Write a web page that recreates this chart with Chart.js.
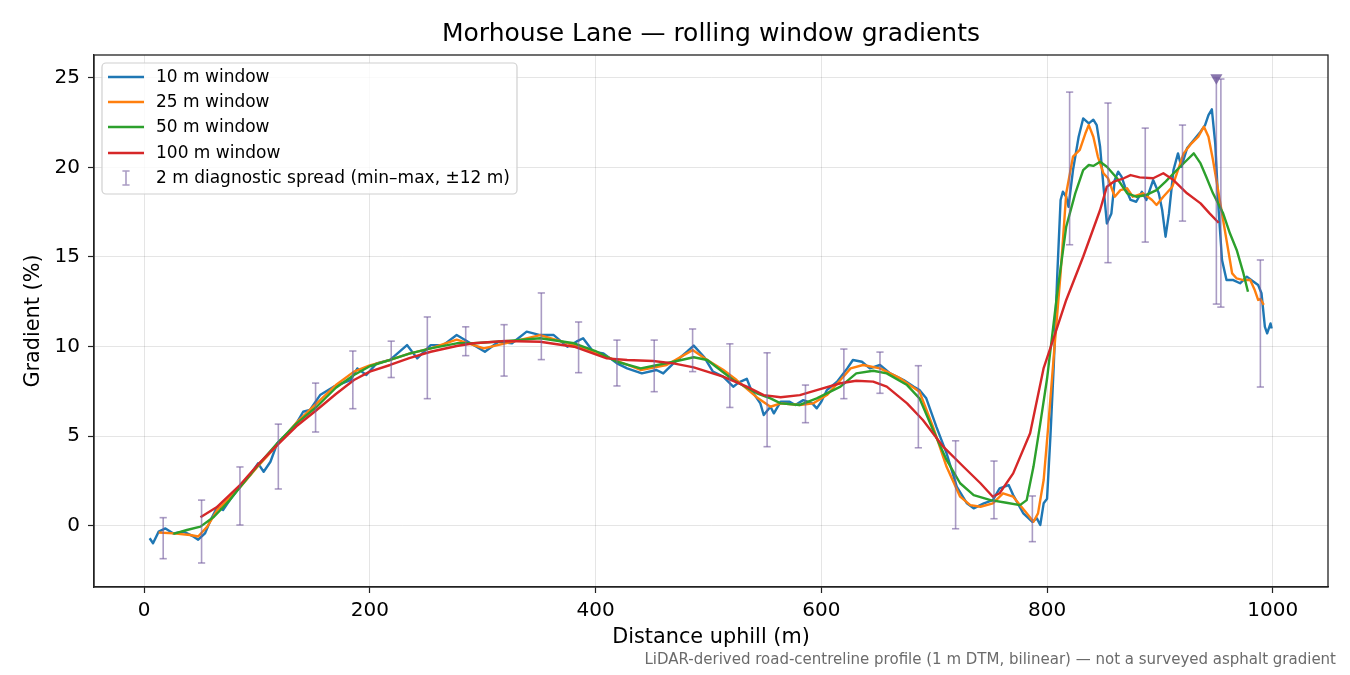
<!DOCTYPE html>
<html>
<head>
<meta charset="utf-8">
<title>Morhouse Lane — rolling window gradients</title>
<script src="https://cdn.jsdelivr.net/npm/chart.js@4.4.1/dist/chart.umd.min.js"></script>
<style>
  html, body { margin: 0; padding: 0; background: #fff; }
  #wrap { width: 1350px; height: 675px; }
</style>
</head>
<body>
<div id="wrap"><canvas id="gradChart" width="1350" height="675"></canvas></div>
<script>
/* Data (distance in m, gradient in %) */
const dist10 = [5,8,13,19,26,35,44,48,54,59,65,70,76,85,94,101,106,112,118,127,135,141,147,156,168,183,189,197,206,218,233,242,254,265,277,287,302,314,326,339,351,363,375,383,389,398,407,419,428,441,454,460,469,481,487,496,504,513,522,527,534,538,546,549,555,558,564,572,577,584,592,596,600,605,614,623,628,636,643,652,661,673,682,687,693,702,711,720,729,735,744,752,758,766,770,779,787,791,794,797,800,803,806,809,812,814,817,819,823,828,832,837,841,844,847,850,853,857,860,863,866,869,874,879,884,888,894,899,902,905,908,912,916,919,924,930,936,940,943,946,949,952,955,959,965,971,977,983,987,990,993,995,998,999];
const grad10 = [-0.70,-0.98,-0.33,-0.15,-0.43,-0.33,-0.61,-0.78,-0.43,0.32,1.06,0.88,1.43,2.18,2.83,3.48,3.01,3.57,4.60,5.16,5.71,6.36,6.46,7.29,7.76,8.13,8.78,8.41,9.06,9.25,10.08,9.34,10.08,10.08,10.64,10.27,9.71,10.27,10.18,10.83,10.64,10.64,9.99,10.27,10.46,9.71,9.62,9.06,8.78,8.50,8.69,8.50,9.06,9.71,10.05,9.43,8.60,8.32,7.76,8.00,8.20,7.57,6.83,6.18,6.64,6.27,6.92,6.92,6.74,7.01,6.83,6.55,6.92,7.57,8.04,8.78,9.25,9.15,8.78,8.97,8.50,8.13,7.76,7.57,7.11,5.52,4.04,2.18,1.25,0.97,1.25,1.43,2.09,2.27,1.71,0.69,0.22,0.41,0.04,1.25,1.50,5.00,9.00,13.90,18.18,18.64,18.36,17.80,19.85,21.71,22.73,22.45,22.66,22.36,21.15,18.92,16.87,17.43,19.29,19.76,19.48,18.92,18.18,18.08,18.64,18.18,19.29,18.55,17.62,16.13,17.43,19.85,20.78,20.03,21.06,21.52,21.99,22.36,22.92,23.24,21.34,17.62,14.83,13.71,13.71,13.53,13.90,13.62,13.43,12.97,11.10,10.74,11.29,11.00];

const dist25 = [13,26,41,48,56,65,85,100,118,135,153,170,186,200,218,235,254,277,301,320,351,381,410,440,463,486,499,513,525,544,555,564,581,593,605,617,626,637,652,670,687,699,711,723,732,741,752,761,770,782,788,792,797,801,806,812,817,823,829,834,837,841,845,850,854,860,865,871,876,885,893,897,903,911,915,921,928,934,939,943,947,953,959,964,968,974,980,984,987,989,992];
const grad25 = [-0.38,-0.43,-0.52,-0.60,-0.05,0.88,2.14,3.25,4.50,5.75,6.83,7.85,8.60,8.95,9.25,9.60,9.90,10.38,9.90,10.18,10.64,10.08,9.43,8.69,8.97,9.80,9.25,8.70,8.13,7.11,6.64,6.83,6.74,6.83,7.29,8.13,8.78,8.97,8.78,8.22,7.48,5.52,3.29,1.62,1.15,1.06,1.25,1.81,1.62,0.69,0.22,0.69,2.55,5.50,9.50,14.08,18.55,20.60,20.97,21.90,22.36,21.71,20.60,19.67,19.39,18.36,18.73,18.83,18.36,18.55,18.18,17.90,18.36,18.92,19.67,20.78,21.34,21.71,22.27,21.71,20.41,18.18,15.94,14.08,13.80,13.71,13.71,13.15,12.60,12.65,12.32];

const dist50 = [26,38,50,62,76,85,100,118,135,153,170,186,200,218,235,254,277,292,320,351,381,400,419,440,469,487,499,522,543,555,564,581,596,617,631,646,658,676,687,699,711,723,735,750,764,776,782,788,794,800,809,817,825,832,837,841,847,853,862,871,879,888,897,905,915,924,930,936,941,947,956,962,968,974,978];
const grad50 = [-0.45,-0.24,-0.05,0.50,1.43,2.14,3.30,4.60,5.70,6.64,7.70,8.41,8.90,9.25,9.60,9.90,10.18,10.18,10.30,10.46,10.18,9.75,9.15,8.78,9.15,9.40,9.25,8.13,7.39,7.11,6.83,6.74,7.11,7.76,8.50,8.65,8.50,7.85,7.11,5.34,3.67,2.37,1.71,1.43,1.28,1.15,1.43,3.30,5.70,8.20,12.97,16.69,18.55,19.85,20.13,20.08,20.31,20.03,19.39,18.55,18.36,18.46,18.73,19.20,19.85,20.41,20.78,20.22,19.48,18.55,17.43,16.32,15.39,14.08,13.06];

const dist100 = [50,65,85,100,118,135,153,170,186,200,218,235,254,277,292,320,351,381,410,428,451,469,487,513,534,549,564,581,596,617,631,646,658,676,690,708,726,741,752,758,770,785,797,806,817,832,847,853,859,868,874,882,894,903,912,924,936,944,952];
const grad100 = [0.47,1.06,2.27,3.35,4.50,5.55,6.46,7.35,8.13,8.60,8.97,9.35,9.71,10.03,10.18,10.31,10.27,9.99,9.34,9.25,9.19,9.06,8.84,8.32,7.76,7.29,7.17,7.29,7.57,7.95,8.09,8.04,7.76,6.83,5.90,4.41,3.29,2.37,1.62,1.81,2.92,5.16,8.80,10.50,12.60,15.01,17.62,18.92,19.20,19.39,19.57,19.44,19.39,19.67,19.29,18.55,17.99,17.43,16.91];

// 2 m diagnostic spread, min and max over +-12 m
const spreadDist = [17,51,85,119,152,185,219,251,285,319,352,385,419,452,486,519,552,586,620,652,686,719,753,787,820,854,887,920,950,954,989];
const spreadLow = [-1.84,-2.08,0.04,2.05,5.23,6.53,8.27,7.09,9.49,8.35,9.27,8.54,7.80,7.48,8.60,6.60,4.41,5.75,7.09,7.39,4.35,-0.17,0.39,-0.89,15.68,14.68,15.83,17.00,12.37,12.20,7.74];
const spreadHigh = [0.45,1.43,3.28,5.67,7.96,9.75,10.30,11.65,11.10,11.22,12.99,11.37,10.36,10.36,10.98,10.15,9.65,7.85,9.86,9.69,8.93,4.74,3.61,1.66,24.20,23.59,22.19,22.36,25.00,24.93,14.83];

// spread clipped at the top of the axis
const clipDist = [950];
const clipGrad = [25];

const xTickValues = [0, 200, 400, 600, 800, 1000];
const yTickValues = [0, 5, 10, 15, 20, 25];

const chartTitle = "Morhouse Lane — rolling window gradients";
const seriesLabels = ["10 m window", "25 m window", "50 m window", "100 m window"];
const spreadLabel = "2 m diagnostic spread (min–max, ±12 m)";
const footnote = "LiDAR-derived road-centreline profile (1 m DTM, bilinear) — not a surveyed asphalt gradient";

const seriesColors = ["#1f77b4", "#ff7f0e", "#2ca02c", "#d62728"];
const spreadColor = "rgba(118, 96, 160, 0.62)";
const clipColor = "rgba(118, 96, 160, 0.85)";
const FONT = "'DejaVu Sans', 'Liberation Sans', sans-serif";

Chart.defaults.font.family = FONT;
Chart.defaults.color = "#000";

function toPoints(xs, ys) {
  return xs.map((x, i) => ({ x: x, y: ys[i] }));
}

// every spread becomes low -> high, then a gap
function spreadPoints() {
  const pts = [];
  spreadDist.forEach((x, i) => {
    pts.push({ x: x, y: spreadLow[i] });
    pts.push({ x: x, y: spreadHigh[i] });
    pts.push({ x: x, y: null });
  });
  return pts;
}

function lineSet(label, data, color, order) {
  return {
    label: label,
    data: data,
    borderColor: color,
    backgroundColor: color,
    borderWidth: 2.4,
    borderJoinStyle: "round",
    pointRadius: 0,
    tension: 0,
    fill: false,
    order: order,
  };
}

/* black frame on all four sides + title centred over the axes */
const framePlugin = {
  id: "frame",
  afterDatasetsDraw(chart) {
    const { ctx, chartArea: a } = chart;
    ctx.save();
    ctx.strokeStyle = "#222";
    ctx.lineWidth = 1.3;
    ctx.strokeRect(a.left, a.top, a.right - a.left, a.bottom - a.top);
    ctx.font = "25px " + FONT;
    ctx.fillStyle = "#000";
    ctx.textAlign = "center";
    ctx.textBaseline = "middle";
    ctx.fillText(chartTitle, (a.left + a.right) / 2, 34);
    ctx.restore();
  },
};

/* legend inside the axes, top-left */
const insetLegend = {
  id: "insetLegend",
  afterDraw(chart) {
    const ctx = chart.ctx;
    const a = chart.chartArea;
    const bx = a.left + 8, by = a.top + 8, bw = 415, bh = 131;
    ctx.save();
    ctx.beginPath();
    ctx.roundRect(bx, by, bw, bh, 4);
    ctx.fillStyle = "rgba(255,255,255,0.8)";
    ctx.fill();
    ctx.strokeStyle = "#d0d0d0";
    ctx.lineWidth = 1.2;
    ctx.stroke();

    ctx.font = "17px " + FONT;
    ctx.textBaseline = "middle";
    ctx.fillStyle = "#000";
    const rows = [77, 102, 127, 153, 178];
    seriesLabels.forEach((lab, i) => {
      const y = rows[i];
      ctx.strokeStyle = chart.data.datasets[i].borderColor;
      ctx.lineWidth = 2.4;
      ctx.beginPath();
      ctx.moveTo(bx + 6, y);
      ctx.lineTo(bx + 42, y);
      ctx.stroke();
      ctx.fillText(lab, bx + 54, y + 1);
    });
    // errorbar symbol
    const ey = rows[4], ex = bx + 24;
    ctx.strokeStyle = spreadColor;
    ctx.lineWidth = 1.6;
    ctx.beginPath();
    ctx.moveTo(ex, ey - 7); ctx.lineTo(ex, ey + 7);
    ctx.moveTo(ex - 3.6, ey - 7); ctx.lineTo(ex + 3.6, ey - 7);
    ctx.moveTo(ex - 3.6, ey + 7); ctx.lineTo(ex + 3.6, ey + 7);
    ctx.stroke();
    ctx.fillText(spreadLabel, bx + 54, ey + 1);
    ctx.restore();
  },
};

/* source note, bottom right of the figure */
const footnotePlugin = {
  id: "footnote",
  afterDraw(chart) {
    const ctx = chart.ctx;
    ctx.save();
    ctx.font = "15px " + FONT;
    ctx.fillStyle = "#6b6b6b";
    ctx.textAlign = "right";
    ctx.textBaseline = "middle";
    ctx.fillText(footnote, chart.width - 14, 660);
    ctx.restore();
  },
};

const gridCommon = {
  color: "rgba(0,0,0,0.1)",
  lineWidth: 1,
  drawTicks: true,
  tickLength: 6,
  tickColor: "#222",
  tickWidth: 1.2,
};

const ctx = document.getElementById("gradChart");

new Chart(ctx, {
  type: "line",
  data: {
    datasets: [
      lineSet(seriesLabels[0], toPoints(dist10, grad10), seriesColors[0], 6),
      lineSet(seriesLabels[1], toPoints(dist25, grad25), seriesColors[1], 5),
      lineSet(seriesLabels[2], toPoints(dist50, grad50), seriesColors[2], 4),
      lineSet(seriesLabels[3], toPoints(dist100, grad100), seriesColors[3], 3),
      {
        label: spreadLabel,
        data: spreadPoints(),
        borderColor: spreadColor,
        borderWidth: 1.6,
        spanGaps: false,
        tension: 0,
        pointStyle: "line",
        pointRadius: 3.6,
        pointBorderWidth: 1.6,
        pointBorderColor: spreadColor,
        order: 2,
      },
      {
        label: "clipped",
        data: toPoints(clipDist, clipGrad),
        showLine: false,
        pointStyle: "triangle",
        pointRotation: 180,
        pointRadius: 7,
        pointBorderWidth: 0,
        pointBackgroundColor: clipColor,
        pointBorderColor: clipColor,
        order: 1,
      },
    ],
  },
  options: {
    responsive: false,
    animation: false,
    devicePixelRatio: 1,
    layout: { padding: { left: 0, right: 22, top: 55, bottom: 0 } },
    plugins: {
      legend: { display: false },
      tooltip: { enabled: false },
      title: { display: false },
    },
    scales: {
      x: {
        type: "linear",
        min: -44.3,
        max: 1048.9,
        afterBuildTicks: (s) => { s.ticks = xTickValues.map((v) => ({ value: v })); },
        afterFit: (s) => { s.height = 88; },
        ticks: { font: { size: 20 }, color: "#000", padding: 6, maxRotation: 0, callback: (v) => String(v) },
        grid: gridCommon,
        border: { display: true, color: "#222", width: 1.3 },
        title: {
          display: true,
          text: "Distance uphill (m)",
          font: { size: 20.8 },
          color: "#000",
          padding: { top: 0, bottom: 24.5 },
        },
      },
      y: {
        type: "linear",
        min: -3.42,
        max: 26.27,
        afterBuildTicks: (s) => { s.ticks = yTickValues.map((v) => ({ value: v })); },
        afterFit: (s) => { s.width = 94; },
        ticks: { font: { size: 20 }, color: "#000", padding: 8, callback: (v) => String(v) },
        grid: gridCommon,
        border: { display: true, color: "#222", width: 1.3 },
        title: {
          display: true,
          text: "Gradient (%)",
          font: { size: 20.8 },
          color: "#000",
          padding: { top: 21.5, bottom: 0 },
        },
      },
    },
  },
  plugins: [framePlugin, insetLegend, footnotePlugin],
});
</script>
</body>
</html>
